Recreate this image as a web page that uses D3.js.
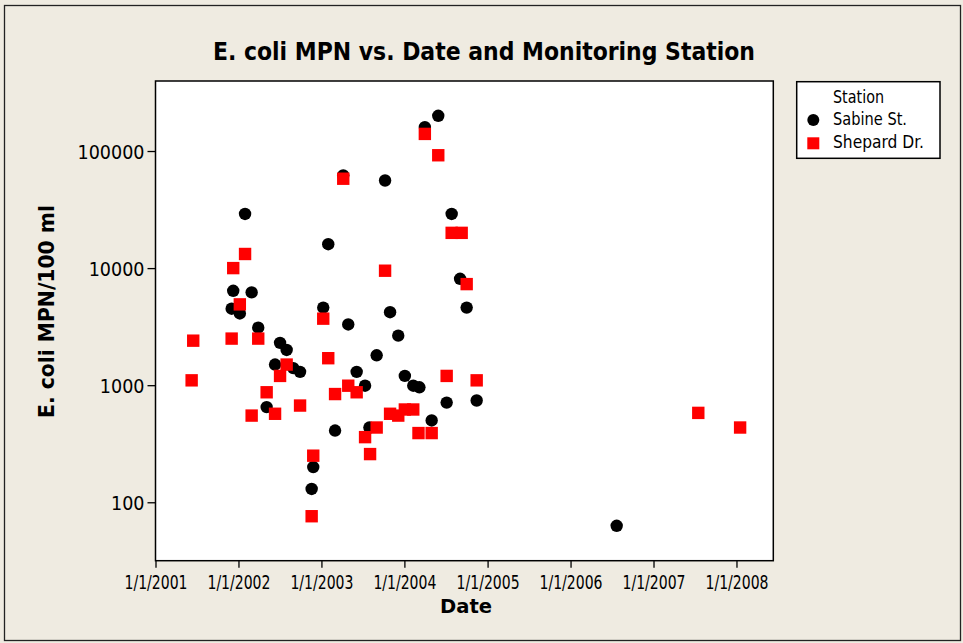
<!DOCTYPE html>
<html>
<head>
<meta charset="utf-8">
<script src="https://cdn.jsdelivr.net/npm/d3@7/dist/d3.min.js"></script>
<style>
  html, body { margin: 0; padding: 0; background: #efebe1; }
  svg { display: block; }
  text { font-family: "DejaVu Sans Condensed", "DejaVu Sans", sans-serif; fill: #000; }
</style>
</head>
<body>
<svg id="chart" width="963" height="643"></svg>
<script>
// ---- Data ----
const sabineDates = [
  "2004-03-31","2004-05-29","2003-04-07","2003-10-08","2002-01-30","2003-01-31",
  "2004-07-27","2004-09-02","2001-12-09","2002-02-28","2001-12-02","2002-01-07",
  "2003-01-09","2003-10-30","2004-10-01","2002-03-29","2003-04-29","2002-07-03",
  "2002-08-01","2003-12-05","2003-09-01","2002-06-11","2002-08-30","2002-09-29",
  "2003-06-05","2004-01-03","2003-07-12","2004-02-09","2004-03-07","2004-07-05",
  "2004-11-14","2002-05-05","2004-04-30","2003-03-02","2003-07-31","2002-11-26",
  "2002-11-19","2006-07-23"
];
const sabineValues = [
  160000,200000,62000,56000,29000,16000,
  29000,8100,6400,6200,4500,4100,
  4600,4200,4600,3100,3300,2300,
  2000,2650,1800,1500,1400,1300,
  1300,1200,990,990,960,710,
  740,650,500,410,435,200,
  130,63
];
const shepardDates = [
  "2004-03-31","2004-05-29","2003-04-07","2002-01-30","2001-12-09","2003-10-08",
  "2004-07-27","2004-09-09","2004-10-01","2002-01-07","2003-01-09","2001-06-16",
  "2001-12-02","2002-03-29","2003-01-31","2002-08-01","2002-07-03","2001-06-09",
  "2004-07-05","2004-11-14","2003-04-29","2003-06-05","2002-05-05","2003-03-02",
  "2002-09-29","2002-02-28","2002-06-11","2003-10-30","2003-12-05","2004-01-03",
  "2004-02-09","2003-09-01","2003-07-12","2004-03-03","2004-04-30","2003-08-03",
  "2002-11-26","2002-11-19","2007-07-17","2008-01-17"
];
const shepardValues = [
  140000,92000,58000,13200,10000,9500,
  20000,20000,7300,4900,3700,2400,
  2500,2500,1700,1500,1200,1100,
  1200,1100,990,870,870,840,
  670,550,570,570,550,620,
  620,435,360,390,390,258,
  250,76,580,435
];
const xTickLabels = ["1/1/2001","1/1/2002","1/1/2003","1/1/2004","1/1/2005","1/1/2006","1/1/2007","1/1/2008"];
const yTickValues = [100, 1000, 10000, 100000];
const seriesNames = ["Sabine St.", "Shepard Dr."];

// ---- Layout ----
const svg = d3.select("#chart");
const W = 963, H = 643;
const plot = { left: 155.5, top: 81, right: 773.3, bottom: 560.7 };
const parse = d3.timeParse("%Y-%m-%d");
const parseTick = d3.timeParse("%m/%d/%Y");

const x = d3.scaleTime()
  .domain([parse("2001-01-01"), parse("2008-06-11")])
  .range([plot.left, plot.right]);
const y = d3.scaleLog()
  .domain([Math.pow(10, 1.501), Math.pow(10, 5.598)])
  .range([plot.bottom, plot.top]);

// background & frame
svg.append("rect").attr("x", 0).attr("y", 0).attr("width", W).attr("height", H).attr("fill", "#efebe1");
svg.append("rect").attr("x", 4.5).attr("y", 5.5).attr("width", 956).attr("height", 635)
  .attr("fill", "none").attr("stroke", "#222").attr("stroke-width", 1.3);

// plot area
svg.append("rect").attr("x", plot.left).attr("y", plot.top)
  .attr("width", plot.right - plot.left).attr("height", plot.bottom - plot.top)
  .attr("fill", "#fff");

// axes
const xAxis = d3.axisBottom(x)
  .tickValues(xTickLabels.map(s => parseTick(s)))
  .tickFormat((d, i) => xTickLabels[i])
  .tickSize(7).tickSizeOuter(0);
const gx = svg.append("g").attr("transform", `translate(0,${plot.bottom})`).call(xAxis);
gx.select(".domain").remove();
gx.selectAll(".tick line").attr("stroke", "#000").attr("stroke-width", 1.3);
gx.selectAll(".tick text").attr("y", 0).attr("dy", null)
  .attr("transform", "translate(0,28.6)")
  .style("font-size", "19px")
  .attr("textLength", 63).attr("lengthAdjust", "spacingAndGlyphs");

const yAxis = d3.axisLeft(y)
  .tickValues(yTickValues)
  .tickFormat(d3.format("d"))
  .tickSize(8).tickSizeOuter(0);
const gy = svg.append("g").attr("transform", `translate(${plot.left},0)`).call(yAxis);
gy.select(".domain").remove();
gy.selectAll(".tick line").attr("stroke", "#000").attr("stroke-width", 1.3);
gy.selectAll(".tick text").attr("x", -11).attr("dy", "0.36em").style("font-size", "19.5px");

// series: Sabine (black circles) then Shepard (red squares) on top
const sabine = sabineDates.map((d, i) => ({ date: parse(d), value: sabineValues[i] }));
const shepard = shepardDates.map((d, i) => ({ date: parse(d), value: shepardValues[i] }));

svg.append("clipPath").attr("id", "clip").append("rect")
  .attr("x", plot.left).attr("y", plot.top)
  .attr("width", plot.right - plot.left).attr("height", plot.bottom - plot.top);

const marks = svg.append("g").attr("clip-path", "url(#clip)");
marks.selectAll("circle.sab").data(sabine).join("circle")
  .attr("class", "sab")
  .attr("cx", d => x(d.date)).attr("cy", d => y(d.value))
  .attr("r", 6.2).attr("fill", "#000");
const sq = 12.4;
marks.selectAll("rect.shp").data(shepard).join("rect")
  .attr("class", "shp")
  .attr("x", d => x(d.date) - sq / 2).attr("y", d => y(d.value) - sq / 2)
  .attr("width", sq).attr("height", sq).attr("fill", "#ff0000");

// plot border
svg.append("rect").attr("x", plot.left).attr("y", plot.top)
  .attr("width", plot.right - plot.left).attr("height", plot.bottom - plot.top)
  .attr("fill", "none").attr("stroke", "#000").attr("stroke-width", 1.5);

// title
svg.append("text").attr("x", 484).attr("y", 60).attr("text-anchor", "middle")
  .style("font-size", "24px").style("font-weight", "bold")
  .attr("textLength", 542).attr("lengthAdjust", "spacingAndGlyphs")
  .text("E. coli MPN vs. Date and Monitoring Station");

// axis titles
svg.append("text").attr("x", 466).attr("y", 613).attr("text-anchor", "middle")
  .style("font-size", "20px").style("font-weight", "bold")
  .attr("textLength", 52).attr("lengthAdjust", "spacingAndGlyphs")
  .text("Date");
svg.append("text").attr("transform", "translate(54,311.5) rotate(-90)").attr("text-anchor", "middle")
  .style("font-size", "21px").style("font-weight", "bold")
  .attr("textLength", 213).attr("lengthAdjust", "spacingAndGlyphs")
  .text("E. coli MPN/100 ml");

// legend
const lg = svg.append("g");
lg.append("rect").attr("x", 796.7).attr("y", 81.7).attr("width", 143.3).attr("height", 76.6)
  .attr("fill", "#fff").attr("stroke", "#000").attr("stroke-width", 1.5);
lg.append("text").attr("x", 833).attr("y", 103.3).style("font-size", "17px")
  .attr("textLength", 51).attr("lengthAdjust", "spacingAndGlyphs").text("Station");
lg.append("circle").attr("cx", 813.3).attr("cy", 120).attr("r", 6).attr("fill", "#000");
lg.append("text").attr("x", 833).attr("y", 125).style("font-size", "17px")
  .attr("textLength", 74).attr("lengthAdjust", "spacingAndGlyphs").text(seriesNames[0]);
lg.append("rect").attr("x", 813.3 - 6).attr("y", 143.3 - 6).attr("width", 12).attr("height", 12).attr("fill", "#ff0000");
lg.append("text").attr("x", 833).attr("y", 147.5).style("font-size", "17px")
  .attr("textLength", 91).attr("lengthAdjust", "spacingAndGlyphs").text(seriesNames[1]);
</script>
</body>
</html>
